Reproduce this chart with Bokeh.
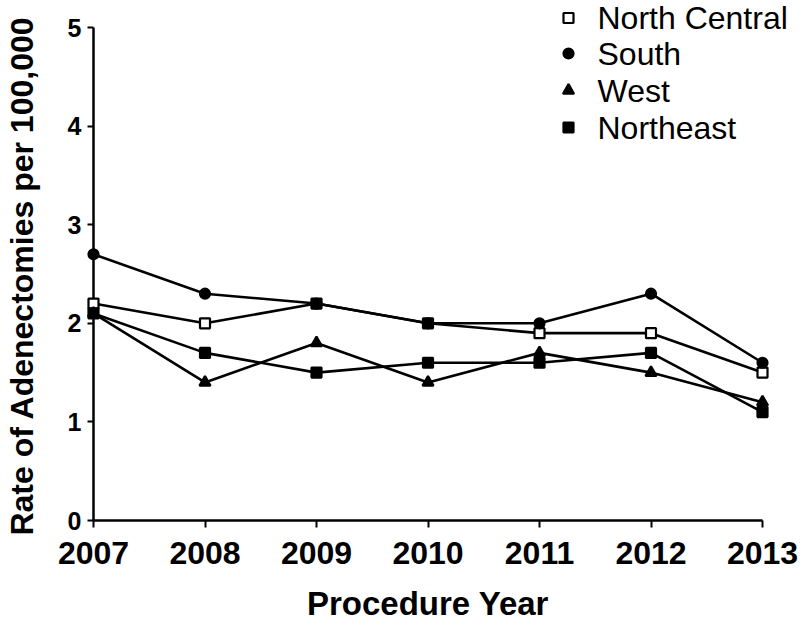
from bokeh.plotting import figure
from bokeh.models import Range1d, FixedTicker, ColumnDataSource
from bokeh.core.properties import value
from bokeh.embed import file_html
from bokeh.resources import INLINE

years = [2007, 2008, 2009, 2010, 2011, 2012, 2013]
north_central = [2.2, 2.0, 2.2, 2.0, 1.9, 1.9, 1.5]
south = [2.7, 2.3, 2.2, 2.0, 2.0, 2.3, 1.6]
west = [2.1, 1.4, 1.8, 1.4, 1.7, 1.5, 1.2]
northeast = [2.1, 1.7, 1.5, 1.6, 1.6, 1.7, 1.1]
series_names = ["North Central", "South", "West", "Northeast"]
y_ticks = [0, 1, 2, 3, 4, 5]

FONT = "Liberation Sans"
W, H = 800, 624
FRAME_L, FRAME_R, FRAME_T, FRAME_B = 93, 762, 22, 520
AXIS_TOP_PX = 27  # pixel row of the top tick (5)
Y0 = y_ticks[0]
Y1 = Y0 + (y_ticks[-1] - Y0) * (FRAME_B - FRAME_T) / (FRAME_B - AXIS_TOP_PX)

p = figure(width=W, height=H, output_backend="svg", toolbar_location=None,
           x_range=Range1d(years[0], years[-1]), y_range=Range1d(Y0, Y1),
           min_border_left=FRAME_L, min_border_right=W - FRAME_R,
           min_border_top=FRAME_T, min_border_bottom=H - FRAME_B)
p.outline_line_color = None
p.xgrid.grid_line_color = None
p.ygrid.grid_line_color = None


def px_to_x(px):
    return years[0] + (px - FRAME_L) * (years[-1] - years[0]) / (FRAME_R - FRAME_L)


def py_to_y(py):
    return Y0 + (FRAME_B - py) * (Y1 - Y0) / (FRAME_B - FRAME_T)


styles = [
    ("square", "white", 10),
    ("circle", "black", 10),
    ("triangle", "black", 11),
    ("square", "black", 10),
]
all_series = [north_central, south, west, northeast]

for vals, (marker, fill, size) in zip(all_series, styles):
    src = ColumnDataSource(dict(x=years, y=vals))
    p.line("x", "y", source=src, line_color="black", line_width=2.6, level="overlay")
    p.scatter("x", "y", source=src, marker=marker, size=size,
              fill_color=fill, line_color="black", line_width=2.2, level="overlay")

# legend (drawn as unclipped glyphs so it may extend past the frame like the original)
LEG_MARK_PX = 568
LEG_TEXT_PX = 597
LEG_ROWS_PX = [17.5, 53, 90, 127]
for name, (marker, fill, size), ry in zip(series_names, styles, LEG_ROWS_PX):
    p.scatter([px_to_x(LEG_MARK_PX)], [py_to_y(ry)], marker=marker, size=size,
              fill_color=fill, line_color="black", line_width=2.2, level="overlay")
    p.text([px_to_x(LEG_TEXT_PX)], [py_to_y(ry)], text=[name],
           text_font=value(FONT), text_font_size="32px", text_color="black",
           text_align="left", text_baseline="middle", level="overlay")

for ax in (p.xaxis, p.yaxis):
    ax.axis_line_width = 2.5
    ax.axis_line_color = "black"
    ax.major_tick_line_width = 2
    ax.major_tick_line_color = "black"
    ax.minor_tick_line_color = None
    ax.major_tick_in = 0
    ax.major_label_text_font = FONT
    ax.major_label_text_font_style = "bold"
    ax.major_label_text_color = "black"
    ax.axis_label_text_font = FONT
    ax.axis_label_text_font_style = "bold"
    ax.axis_label_text_color = "black"

p.xaxis.ticker = FixedTicker(ticks=years)
p.xaxis.major_tick_out = 7
p.xaxis.major_label_text_font_size = "32px"
p.xaxis.major_label_standoff = 14
p.xaxis.axis_label = "Procedure Year"
p.xaxis.axis_label_text_font_size = "33px"
p.xaxis.axis_label_standoff = 18

p.yaxis.ticker = FixedTicker(ticks=y_ticks)
p.yaxis.bounds = (y_ticks[0], y_ticks[-1])
p.yaxis.major_tick_out = 6
p.yaxis.major_label_text_font_size = "25px"
p.yaxis.major_label_standoff = 6
p.yaxis.axis_label = "Rate of  Adenectomies per 100,000"
p.yaxis.axis_label_text_font_size = "32px"
p.yaxis.axis_label_standoff = 25

open("out.html", "w").write(file_html(p, INLINE))
